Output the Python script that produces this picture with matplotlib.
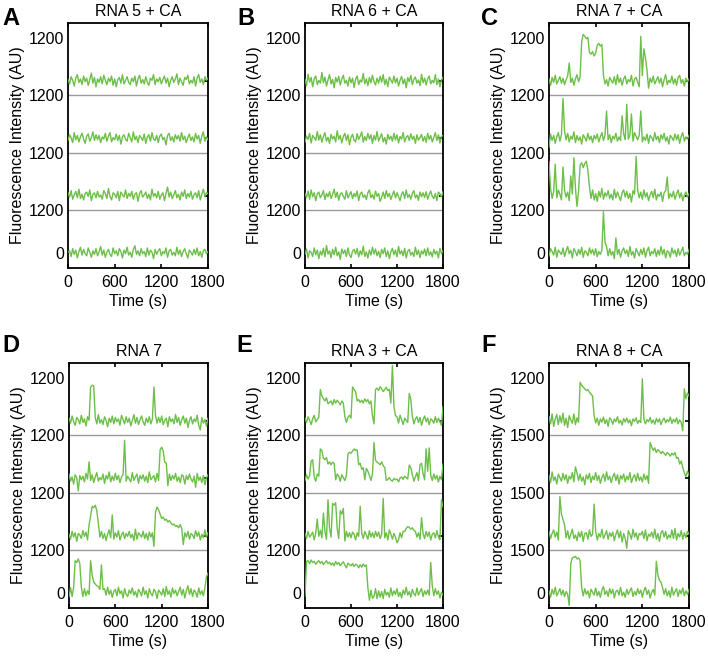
import numpy as np
import matplotlib
matplotlib.use("Agg")
import matplotlib.pyplot as plt

plt.rcParams['font.family'] = ['Liberation Sans', 'DejaVu Sans']

TIME_MAX = 1800
OFFSET = 1600          # vertical spacing between stacked traces (AU)
GREEN = '#6cbf48'

titles = ["RNA 5 + CA", "RNA 6 + CA", "RNA 7 + CA", "RNA 7", "RNA 3 + CA", "RNA 8 + CA"]
letters = ["A", "B", "C", "D", "E", "F"]
ytick_labels = [["0", "1200", "1200", "1200", "1200"]] * 5 + [["0", "1500", "1500", "1500", "1200"]]
xtick_values = [0, 600, 1200, 1800]

# ---- traces (AU), sampled every 20 s from 0 to 1800 s; listed top to bottom ----
a1 = [40,-80,120,20,-140,80,180,-40,60,-100, 140,-20,80,-120,40,220,-60,100,-160,60,
      -40,120,-80,160,20,-100,80,-20,140,-120, 60,-160,40,100,-60,180,-80,20,120,-40,
      -100,80,-20,140,-140,60,160,-60,40,-80, 120,-40,-120,80,20,180,-100,60,-20,100,
      -80,40,140,-60,80,-160,20,120,-40,60, 200,-100,80,-20,-120,100,40,160,-80,20,
      -60,120,-140,80,180,-40,60,-100,120,20, 80]
a2 = [-60,100,20,-120,160,-40,80,-100,40,140, -20,-140,60,120,-80,20,180,-60,100,-40,
      80,-120,40,-20,140,-80,60,160,-100,20, -40,120,-60,80,-160,40,100,-20,-80,140,
      20,-100,180,-40,60,-120,80,20,-60,120, -140,40,100,-80,160,-20,-60,80,-120,60,
      120,-40,20,-180,80,140,-60,40,-100,100, -20,80,-80,160,-40,60,-120,20,120,-60,
      40,-100,140,-20,80,-140,60,180,-80,40, -40]
a3 = [80,-40,140,-100,20,120,-60,180,-80,40, -120,60,100,-20,160,-140,40,80,-60,120,
      -40,20,-100,140,60,-80,200,-20,-120,80, 40,-60,120,-140,100,20,-40,160,-80,60,
      -20,120,-100,40,80,-160,60,140,-40,20, 100,-80,40,-120,180,-20,60,-60,120,-100,
      20,80,-140,60,240,-40,100,-80,20,140, -60,40,-120,100,-20,160,-80,60,-40,120,
      -100,20,80,-60,140,-120,40,180,-20,80, 60]
a4 = [20,60,-100,120,-40,80,-140,40,160,-60, 100,-20,-80,140,20,-120,60,-40,120,-80,
      40,180,-60,80,-120,20,100,-40,-100,140, -20,60,-80,120,40,-140,80,-20,160,-60,
      20,-120,100,200,-40,60,-80,120,-20,40, -100,140,-60,80,20,-160,100,-40,60,120,
      -80,40,-20,140,-120,60,100,-60,20,-80, 160,-40,80,-100,40,120,-20,-140,80,20,
      -60,100,-40,140,-80,40,-120,60,100,-20, 40]

b1 = [50,-130,190,-30,100,-160,60,140,-100,20, -60,240,-50,110,-140,30,180,-80,50,-190,
      100,-30,130,-110,60,160,-60,20,-140,110, -50,80,-180,50,140,-100,30,-30,210,-80,
      60,-130,100,-50,160,-20,-110,80,-60,130, -30,180,-100,50,-160,110,30,-60,140,-50,
      80,-140,20,130,-80,60,-190,100,-20,160, -100,50,110,-60,30,-130,190,-50,80,-110,
      60,140,-80,20,-50,180,-100,60,-160,30, 100]
b2 = [-100,60,-30,140,-130,80,20,-60,190,-50, 100,-110,50,160,-80,30,-140,110,-20,60,
      -100,210,-30,80,-130,50,140,-60,100,-180, 30,110,-50,-100,130,-30,60,180,-110,50,
      -60,140,-20,100,-140,80,-50,190,-80,30, 130,-100,20,-160,110,-30,60,-80,140,-50,
      100,-130,50,-20,160,-100,30,80,-60,130, -30,60,-140,100,-50,20,110,-80,50,-110,
      140,-30,80,-100,30,160,-60,100,-130,50, 80]
b3 = [60,-50,130,-100,160,-30,80,-140,50,100, -60,20,140,-110,60,-30,110,-80,30,180,
      -50,100,-130,50,80,-20,-100,140,-60,30, 110,-80,60,-30,130,-140,50,100,-50,20,
      -110,80,160,-60,30,-100,130,-20,60,-160, -50,100,-80,140,-30,60,-110,20,130,-60,
      80,-30,-140,50,110,-80,160,-50,30,-100, 60,140,-60,20,-130,100,-30,80,-50,110,
      -100,30,130,-20,-80,60,-140,100,50,-30, 110]
b4 = [-30,110,-140,60,20,-100,140,-50,80,-160, 50,-60,130,-110,210,-30,60,-130,100,-50,
      160,-80,30,-180,110,-20,80,-100,140,-60, -130,50,100,-30,130,-110,60,-50,190,-100,
      30,-140,80,-60,160,-30,110,-80,50,-130, 100,-20,140,-100,60,-160,30,130,-50,80,
      -110,180,-30,60,-80,130,-140,50,100,-60, 20,-100,160,-50,80,-130,60,-30,110,-80,
      140,-60,30,-110,100,-30,50,-140,130,-20, 60]

c1 = [60,-120,100,-40,160,-80,20,120,-60,80, -100,40,140,500,-40,80,-120,60,180,-20,
      120,1100,1300,1250,1180,1220,800,750,820,700, 780,1000,1050,980,1020,160,-80,40,-140,100,
      20,-60,120,-100,180,-40,80,-120,60,140, -80,40,-20,160,-140,60,100,-40,-160,1250,
      150,900,650,300,-200,80,-40,140,-80,20, 120,-60,80,-160,40,180,-100,20,-40,140,
      -80,60,-120,100,160,-60,40,-140,80,-20, 60]
c2 = [-250,120,-60,80,-140,40,160,-80,100,1120, 200,-40,140,-100,60,-20,180,-120,80,-60,
      40,-160,100,20,-80,140,-40,60,-120,80, -20,120,-100,40,160,-60,80,760,-40,100,
      -120,60,-20,140,-80,40,-60,630,120,-40, 950,-20,100,680,-80,160,60,-40,80,760,
      -100,40,-60,120,-140,80,20,-80,160,-40, 60,-120,100,-20,140,-80,40,-160,80,20,
      -60,120,-40,100,-140,60,160,-80,40,-20, 80]
c3 = [950,200,-80,120,880,-60,160,40,-120,800, 150,-40,100,-140,550,40,1060,200,-300,120,
      850,920,780,900,960,700,250,-80,160,-120, 60,-160,120,-40,200,-100,80,-20,140,-80,
      40,-120,180,-60,100,-20,-140,80,160,-40, 120,-80,60,-180,140,40,1090,150,-60,100,
      -100,160,-40,80,-140,20,120,-60,180,-120, 40,-20,100,-160,80,140,520,-80,60,-40,
      120,-100,40,160,-60,80,-140,20,100,-40, 60]
c4 = [-80,120,40,-60,160,-120,80,20,-40,140, -100,60,180,-20,80,-140,120,40,-80,100,
      -40,160,-120,60,20,-80,140,-20,100,-60, 120,-100,40,-40,80,1150,300,180,-80,120,
      -60,40,-160,420,-40,100,-120,60,140,-20, 80,-100,180,-60,40,-140,120,20,-80,100,
      -40,140,-120,60,160,-80,40,-20,120,-100, 80,-60,180,-40,100,-140,60,20,-120,140,
      -20,80,-100,120,-60,40,160,-80,20,-40, 100]

d1 = [80,-60,140,-20,-120,100,40,-80,160,-40, 60,-140,120,20,950,1000,980,100,-80,180,
      -60,40,-100,120,20,-160,80,-40,140,-80, 100,-20,60,-120,160,40,-80,120,-40,80,
      -140,20,180,-60,100,-100,40,140,-20,-120, 80,-40,120,-80,60,950,160,-60,100,-40,
      140,-100,20,80,-160,120,-20,60,-80,180, -40,100,-120,40,140,-60,80,-180,20,120,
      -80,60,-20,160,-120,-250,100,-60,40,-140, 80]
d2 = [120,-80,40,-160,100,20,-350,80,-40,60, -100,140,-20,460,-60,100,-120,40,160,-80,
      20,-40,120,-140,80,-20,180,-100,60,-60, 140,-40,80,-120,40,100,1060,-80,60,-20,
      -100,160,-60,40,120,-140,80,-20,100,-80, 60,-120,180,-40,20,80,-100,140,-60,800,
      870,760,450,420,-200,120,-60,80,-20,140, -80,40,-120,100,60,-160,80,-40,120,-20,
      -100,60,-250,140,-60,40,-120,80,-180,20, 100]
d3 = [40,-100,120,-40,80,-160,60,20,-80,140, -20,100,-120,300,550,820,780,850,700,350,
      -40,120,-80,60,-140,40,160,-60,580,-100, 80,-40,140,-120,20,100,-80,60,-20,120,
      -60,40,-140,180,-100,80,20,-40,120,-80, 60,-120,100,-40,80,-300,650,800,720,600,
      480,520,430,460,380,420,350,300,320,260, 280,220,310,200,-250,80,-40,120,-100,60,
      20,-80,140,-20,100,-120,40,-60,160,-40, 80]
d4 = [-100,150,-100,160,900,850,950,820,150,-100, 120,-80,60,-40,900,500,300,250,200,180,
      100,780,100,120,-60,160,-40,80,-120,40, 100,-80,160,-20,60,-140,120,-40,-100,80,
      -20,140,-60,40,-120,100,20,-80,160,-40, 60,-140,120,-20,-80,100,40,-160,80,20,
      -60,120,-100,180,-40,60,-120,140,-20,80, -80,40,160,-60,100,-140,60,200,-40,120,
      -100,80,20,-120,140,-40,60,-80,150,450, 550]

e1 = [80,-40,120,20,-100,60,160,-20,40,100, 880,700,620,560,650,480,520,560,450,600,
      500,580,520,450,560,500,120,-40,100,160, 80,950,880,820,560,600,520,580,500,620,
      540,600,480,560,150,-80,880,920,850,960, 900,820,880,940,850,880,500,1550,400,150,
      120,-60,160,40,-100,80,20,-40,770,600, 140,-80,60,120,-40,100,-120,40,140,-20,
      80,-100,60,20,-60,120,-40,80,-20,-120, 400]
e2 = [-60,100,-20,80,480,520,40,-80,120,60, 820,780,560,520,580,400,460,380,450,420,
      -40,120,60,-80,100,20,-60,80,680,730, 700,760,820,780,800,380,420,250,300,-40,
      280,200,80,-60,120,1000,500,450,420,380, 460,350,300,-60,-30,20,-50,-80,0,-40,
      -20,-100,10,40,-30,60,20,-20,370,300, 100,-80,40,160,-60,380,420,120,-40,820,
      200,850,80,-60,120,-20,80,-100,60,-40, 400]
e3 = [60,-80,120,-40,20,100,-120,80,460,-20, 150,-60,630,120,-100,1000,200,-40,900,850,
      920,200,-80,700,600,760,-150,120,-40,80, -60,100,40,-120,80,-20,820,60,-80,120,
      20,-100,140,-40,80,-60,120,-20,100,-80, 40,1040,-60,80,-120,160,40,-100,60,-40,
      -200,-120,80,-60,120,120,200,250,230,180, 220,150,120,-40,80,-100,500,60,-80,120,
      -20,100,-120,40,80,-60,140,-40,-120,1000, 800]
e4 = [-80,880,900,820,920,850,880,800,860,900, 830,880,790,850,900,820,860,780,840,760,
      880,800,850,760,820,870,780,700,830,790, 760,820,740,800,780,700,790,720,810,740,
      780,150,-200,80,-150,-100,120,-160,60,-120, 40,-160,100,-60,20,-120,140,-80,60,-40,
      120,-100,20,-140,80,-40,160,-60,40,-120, 100,-20,-80,140,-60,40,120,-100,60,-40,
      80,-60,850,200,-80,120,-40,60,-140,20, -60]

f1 = [120,-80,200,-150,60,180,-100,150,-50,220, -120,80,-180,150,30,-60,200,-100,90,-40,
      1080,1000,950,900,850,880,800,750,700,150, -50,80,-120,60,-30,110,-70,40,-150,90,
      30,-90,60,-20,120,-60,20,-110,70,-30, 80,-50,30,-130,60,-10,90,-70,20,-40,
      1180,50,-80,40,-20,100,-60,30,-90,70, -30,60,-100,20,80,-50,40,-20,110,-70,
      50,-30,90,-80,30,-40,-270,900,620,780, 700]
f2 = [80,-120,180,-60,40,-160,120,20,-80,140, -40,100,-140,60,-20,160,-100,320,150,-60,
      120,-80,40,-180,100,-20,140,-120,60,-40, 160,-60,80,-140,20,120,-80,180,-40,60,
      -120,40,140,-60,100,-160,80,-20,120,-100, 60,-40,160,-120,20,100,-80,140,-60,40,
      -100,120,-40,80,-140,1000,880,780,850,720, 800,760,690,750,700,640,720,680,620,700,
      650,720,560,580,400,480,300,150,50,200, 80]
f3 = [120,-80,60,160,-40,100,-120,1090,600,450, 300,-60,140,-100,40,180,-80,20,-140,100,
      -40,120,-160,60,80,-100,160,-20,40,880, 120,-120,60,-40,180,-80,20,140,-100,80,
      -20,100,-140,40,160,-60,120,-180,60,-80, -350,140,40,-100,180,-40,80,-120,60,20,
      120,-80,160,-140,40,-20,100,-60,180,-100, 60,-160,80,140,-40,120,-100,20,-60,160,
      -80,200,-120,60,-40,140,-100,80,-60,120, 40]
f4 = [60,-120,100,-40,160,-80,20,120,-60,80, -100,40,-40,-350,820,980,1000,1020,950,980,
      900,150,-80,120,-40,60,-140,100,20,-60, 140,-80,40,-120,80,180,-40,60,-100,120,
      -20,100,-140,40,80,-60,160,-80,20,-120, 100,-40,60,140,-100,40,-60,120,-20,80,
      -120,60,160,-40,80,-140,20,100,-60,880, 500,350,300,150,-40,120,-80,60,-120,160,
      -60,40,120,-100,80,-20,140,-80,60,-40, 100]

panels = [[a1, a2, a3, a4], [b1, b2, b3, b4], [c1, c2, c3, c4],
          [d1, d2, d3, d4], [e1, e2, e3, e4], [f1, f2, f3, f4]]

# ---- layout (pixels) ----
W, H = 708, 656
boxes = [(68, 23, 140, 245), (305, 23, 138, 245), (549, 23, 140, 245),
         (69, 363, 139, 245), (305, 363, 138, 245), (549, 363, 140, 245)]
letter_pos = [(2, 7), (237, 7), (481, 7), (2, 334), (236, 334), (481, 334)]

fig = plt.figure(figsize=(W / 100, H / 100), dpi=100)
FS = 11.5

for i, traces in enumerate(panels):
    x, y, w, h = boxes[i]
    ax = fig.add_axes([x / W, 1 - (y + h) / H, w / W, h / H])
    n = len(traces)
    for k, tr in enumerate(traces):
        off = (n - 1 - k) * OFFSET
        vals = np.asarray(tr, dtype=float)
        t = np.linspace(0, TIME_MAX, len(vals))
        ax.plot(t, vals + off, color=GREEN, lw=1.0, zorder=3)
    for k in range(1, n):
        ax.axhline(k * OFFSET - 400, color='#9a9a9a', lw=1.0, zorder=2)
    ax.set_xlim(0, TIME_MAX)
    ax.set_ylim(-420, 6420)
    ax.set_xticks(xtick_values)
    ax.set_xticklabels([str(v) for v in xtick_values], fontsize=FS)
    yt = [0] + [k * OFFSET - 400 for k in range(1, n)] + [(n - 1) * OFFSET + 1200]
    ax.set_yticks(yt)
    ax.set_yticklabels(ytick_labels[i], fontsize=FS)
    ax.set_yticks([k * OFFSET for k in range(n)], minor=True)
    ax.tick_params(axis='y', which='major', length=0, pad=3)
    ax.tick_params(axis='y', which='minor', left=False, right=True, direction='in', length=3, width=1.2)
    ax.tick_params(axis='x', which='major', top=True, bottom=True, direction='in', length=3, width=1.2, pad=5)
    for s in ax.spines.values():
        s.set_linewidth(1.3)
    ax.set_title(titles[i], fontsize=FS, pad=5)
    ax.set_xlabel("Time (s)", fontsize=FS)
    ax.xaxis.set_label_coords(0.5, -0.105)
    ax.set_ylabel("Fluorescence Intensity (AU)", fontsize=FS)
    ax.yaxis.set_label_coords(-0.31, 0.5)
    lx, ly = letter_pos[i]
    fig.text(lx / W, 1 - ly / H, letters[i], fontsize=17, fontweight='bold', va='top', ha='left')

fig.savefig("out.png", dpi=100)
